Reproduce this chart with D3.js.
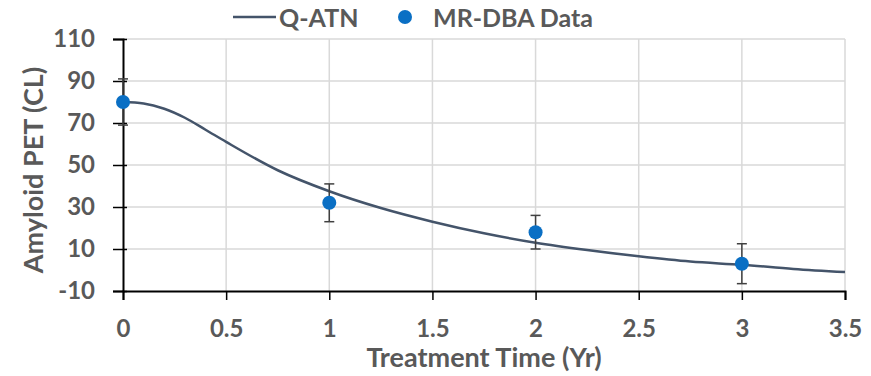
<!DOCTYPE html>
<html>
<head>
<meta charset="utf-8">
<script src="https://cdn.jsdelivr.net/npm/d3@7"></script>
<style>
  body { margin: 0; background: #fff; }
  text { font-family: Lato, "Open Sans", sans-serif; font-weight: bold; fill: #595959; }
</style>
</head>
<body>
<div id="chart"></div>
<script>
// Q-ATN model curve
const curveT = [0, 0.1, 0.2, 0.3, 0.4, 0.5, 0.75, 1, 1.25, 1.5, 1.75, 2, 2.25, 2.5, 2.75, 3, 3.25, 3.5];
const curveV = [80, 79.3, 76.8, 72.5, 66.8, 61, 47.5, 37.5, 29.5, 23, 17.5, 13, 9.5, 6.5, 4, 2.5, 0.5, -1];

// MR-DBA data with error bars
const dataT = [0, 1, 2, 3];
const dataV = [80, 32, 18, 3];
const dataErr = [11, 9, 8, 9.5];

const xTicks = [0, 0.5, 1, 1.5, 2, 2.5, 3, 3.5];
const yTicks = [-10, 10, 30, 50, 70, 90, 110];

const W = 871, H = 376;
const m = { left: 123, right: 26, top: 39, bottom: 85 };

const svg = d3.select("#chart").append("svg")
  .attr("width", W).attr("height", H);

const x = d3.scaleLinear().domain([0, 3.5]).range([m.left, W - m.right]);
const y = d3.scaleLinear().domain([-10, 110]).range([H - m.bottom, m.top]);

// gridlines
svg.append("g").selectAll("line").data(xTicks.slice(1)).join("line")
  .attr("x1", d => x(d)).attr("x2", d => x(d))
  .attr("y1", y(110)).attr("y2", y(-10))
  .attr("stroke", "#d9d9d9").attr("stroke-width", 1.5);
svg.append("g").selectAll("line").data(yTicks.slice(1)).join("line")
  .attr("x1", x(0)).attr("x2", x(3.5))
  .attr("y1", d => y(d)).attr("y2", d => y(d))
  .attr("stroke", "#d9d9d9").attr("stroke-width", 1.5);

// axes (plain hyphen for negatives, like the original)
const fmt = d => String(d);
const xAxis = svg.append("g")
  .attr("transform", `translate(0,${y(-10)})`)
  .call(d3.axisBottom(x).tickValues(xTicks).tickFormat(fmt).tickSize(9).tickPadding(20));
const yAxis = svg.append("g")
  .attr("transform", `translate(${x(0)},0)`)
  .call(d3.axisLeft(y).tickValues(yTicks).tickFormat(fmt).tickSize(10).tickPadding(18));
[xAxis, yAxis].forEach(g => {
  g.select(".domain").attr("stroke", "#000").attr("stroke-width", 2);
  g.selectAll(".tick line").attr("stroke", "#000").attr("stroke-width", 1.5);
  g.selectAll(".tick text").style("font-size", "24px").attr("fill", "#595959");
});
yAxis.selectAll(".tick line").attr("x1", 4);

// model line
const line = d3.line().x((d, i) => x(curveT[i])).y(d => y(d)).curve(d3.curveMonotoneX);
svg.append("path").datum(curveV)
  .attr("d", line).attr("fill", "none")
  .attr("stroke", "#44546a").attr("stroke-width", 2.5);

// error bars
const eb = svg.append("g").attr("stroke", "#404040").attr("stroke-width", 1.5);
dataT.forEach((t, i) => {
  const cx = x(t), lo = y(dataV[i] - dataErr[i]), hi = y(dataV[i] + dataErr[i]);
  eb.append("line").attr("x1", cx).attr("x2", cx).attr("y1", lo).attr("y2", hi);
  eb.append("line").attr("x1", cx - 5).attr("x2", cx + 5).attr("y1", lo).attr("y2", lo);
  eb.append("line").attr("x1", cx - 5).attr("x2", cx + 5).attr("y1", hi).attr("y2", hi);
});

// data points
svg.append("g").selectAll("circle").data(dataV).join("circle")
  .attr("cx", (d, i) => x(dataT[i])).attr("cy", d => y(d))
  .attr("r", 7).attr("fill", "#0a6fc4");

// axis titles
svg.append("text").attr("x", (x(0) + x(3.5)) / 2).attr("y", 367)
  .attr("text-anchor", "middle").style("font-size", "27px")
  .text("Treatment Time (Yr)");
svg.append("text")
  .attr("transform", "translate(43,170) rotate(-90)")
  .attr("text-anchor", "middle").style("font-size", "27px")
  .text("Amyloid PET (CL)");

// legend
const lg = svg.append("g");
lg.append("line").attr("x1", 233).attr("x2", 276).attr("y1", 17).attr("y2", 17)
  .attr("stroke", "#44546a").attr("stroke-width", 2.5);
lg.append("text").attr("x", 279).attr("y", 27).style("font-size", "25px").text("Q-ATN");
lg.append("circle").attr("cx", 405).attr("cy", 17).attr("r", 7).attr("fill", "#0a6fc4");
lg.append("text").attr("x", 433).attr("y", 27).style("font-size", "25px").text("MR-DBA Data");
</script>
</body>
</html>
